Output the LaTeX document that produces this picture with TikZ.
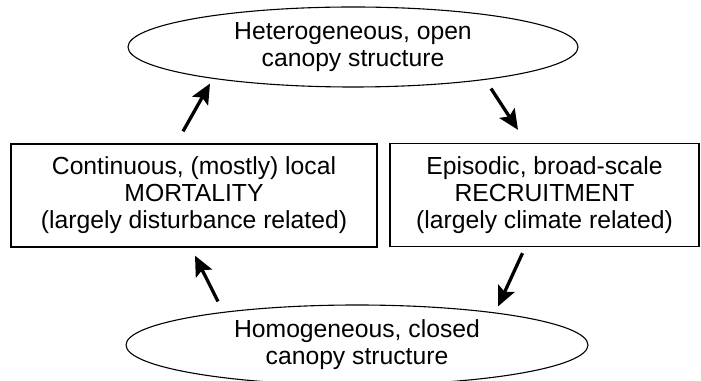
\documentclass[tikz,border=0pt]{standalone}
\usepackage{fontspec}
\setmainfont{Liberation Sans}
\usetikzlibrary{shapes.geometric, arrows.meta, positioning}

\begin{document}
\begin{tikzpicture}[x=1pt, y=1pt,
    every node/.style={font=\fontsize{24.7}{27}\selectfont, align=center},
    canopy/.style={ellipse, draw, line width=1.1pt, inner sep=0pt, minimum height=80pt},
    process/.style={rectangle, draw, line width=1.3pt, inner sep=0pt, minimum height=103pt},
    cyc/.style={line width=3.3pt, -{Stealth[length=20pt, width=18pt, inset=4pt]}}]
    \useasboundingbox (0,0) rectangle (701,380);
    \node[canopy, minimum width=450pt] (open) at (353,333) {Heterogeneous, open\\canopy structure};
    \node[canopy, minimum width=462pt] (closed) at (357,35) {Homogeneous, closed\\canopy structure};
    \node[process, minimum width=366pt] (mort) at (194,184.5) {Continuous, (mostly) local\\MORTALITY\\(largely disturbance related)};
    \node[process, minimum width=309pt] (recr) at (544.5,185) {Episodic, broad-scale\\RECRUITMENT\\(largely climate related)};
    \draw[cyc] ([shift={(-11pt,12pt)}]mort.north) -- ([shift={(-143pt,4pt)}]open.south);
    \draw[cyc] ([shift={(138pt,-1pt)}]open.south) -- ([shift={(-26.5pt,13pt)}]recr.north);
    \draw[cyc] ([shift={(-22pt,-6pt)}]recr.south) -- ([shift={(141pt,-2pt)}]closed.north);
    \draw[cyc] ([shift={(-139pt,3pt)}]closed.north) -- ([shift={(1pt,-8pt)}]mort.south);
\end{tikzpicture}
\end{document}
